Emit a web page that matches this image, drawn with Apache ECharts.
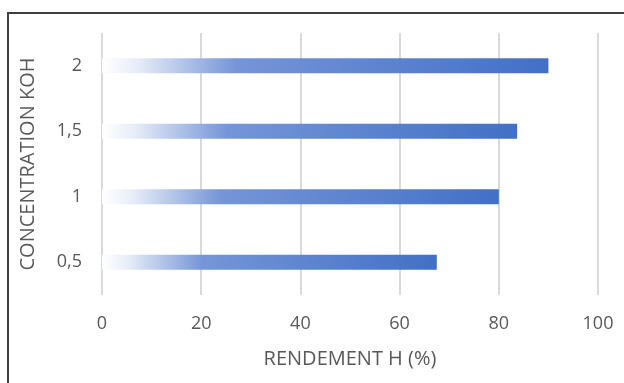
<!DOCTYPE html>
<html>
<head>
<meta charset="utf-8">
<script src="https://cdn.jsdelivr.net/npm/echarts@6/dist/echarts.min.js"></script>
<style>
  html, body { margin: 0; padding: 0; background: #fff; }
  #chart { width: 624px; height: 383px; }
</style>
</head>
<body>
<div id="chart"></div>
<script>
const categories = ['0,5', '1', '1,5', '2'];
const rendement = [67.5, 80, 83.7, 90];
const xTicks = [0, 20, 40, 60, 80, 100];

const chart = echarts.init(document.getElementById('chart'));

const barGradient = new echarts.graphic.LinearGradient(0, 0, 1, 0, [
  { offset: 0, color: '#ffffff' },
  { offset: 0.08, color: '#e6ecf8' },
  { offset: 0.3, color: '#7595d8' },
  { offset: 1, color: '#4270c6' }
]);

chart.setOption({
  animation: false,
  textStyle: { fontFamily: 'Open Sans' },
  graphic: [
    {
      type: 'rect',
      shape: { x: 8, y: 13, width: 700, height: 500 },
      style: { fill: 'none', stroke: '#3f3f3f', lineWidth: 2 },
      silent: true
    }
  ],
  grid: {
    left: 102,
    right: 26,
    top: 33,
    bottom: 88
  },
  xAxis: {
    type: 'value',
    min: xTicks[0],
    max: xTicks[xTicks.length - 1],
    interval: 20,
    name: 'RENDEMENT H (%)',
    nameLocation: 'middle',
    nameGap: 54,
    nameTextStyle: { color: '#595959', fontSize: 20 },
    axisLine: { show: false },
    axisTick: { show: false },
    axisLabel: { color: '#595959', fontSize: 18, margin: 20 },
    splitLine: { lineStyle: { color: '#d9d9d9', width: 2 } }
  },
  yAxis: {
    type: 'category',
    data: categories,
    name: 'CONCENTRATION KOH',
    nameLocation: 'middle',
    nameGap: 64,
    nameTextStyle: { color: '#595959', fontSize: 20 },
    axisLine: { show: false },
    axisTick: { show: false },
    axisLabel: { color: '#595959', fontSize: 18, margin: 20 },
    splitLine: { show: false }
  },
  series: [
    {
      type: 'bar',
      data: rendement,
      barWidth: 15,
      itemStyle: { color: barGradient }
    }
  ]
});
</script>
</body>
</html>
